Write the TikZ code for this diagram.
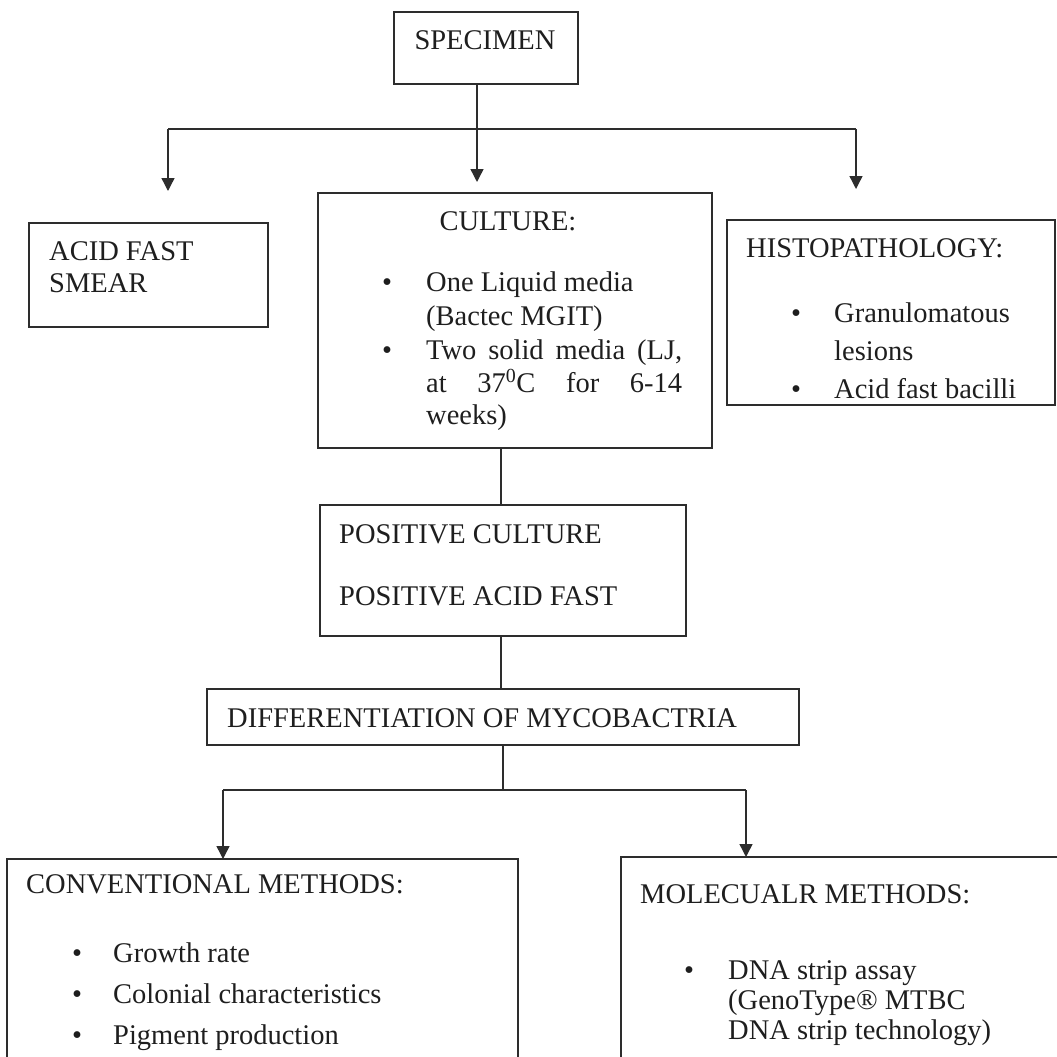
\documentclass[tikz,border=0pt]{standalone}
\usepackage{fontspec}
\setmainfont{Liberation Serif}
\usetikzlibrary{arrows.meta}
\definecolor{inkc}{RGB}{45,45,45}
\definecolor{textc}{RGB}{30,30,30}
\begin{document}
\begin{tikzpicture}[x=1pt,y=-1pt,
  ink/.style={draw=inkc, line width=1.4pt},
  box/.style={ink, rectangle, inner sep=0pt, outer sep=0pt, anchor=north west},
  txt/.style={anchor=base west, inner sep=0pt, text=textc, font=\fontsize{28.5}{34}\selectfont},
  ctxt/.style={txt, anchor=base},
  arr/.style={ink, -{Triangle[width=13pt,length=13pt]}},
]
\useasboundingbox (0,0) rectangle (1057,1057);
\clip (0,0) rectangle (1057,1057);

% boxes
\node[box, minimum width=184pt, minimum height=72pt] (spec) at (394,12) {};
\node[box, minimum width=239pt, minimum height=104pt] (acid) at (29,223) {};
\node[box, minimum width=394pt, minimum height=255pt] (cult) at (318,193) {};
\node[box, minimum width=328pt, minimum height=185pt] (histo) at (727,220) {};
\node[box, minimum width=366pt, minimum height=131pt] (pos) at (320,505) {};
\node[box, minimum width=592pt, minimum height=56pt] (diff) at (207,689) {};
\node[box, minimum width=511pt, minimum height=260pt] (conv) at (7,859) {};
\node[box, minimum width=500pt, minimum height=260pt] (mol) at (621,857) {};

% texts
\node[ctxt] (tspec) at (485,50) {SPECIMEN};
\node[txt] (tacid1) at (49,260) {ACID FAST};
\node[txt] (tacid2) at (49,292) {SMEAR};

\node[ctxt] (tcult) at (508,230) {CULTURE:};
\node[ctxt] (bc1) at (387,291) {•};
\node[txt] (tc1) at (426,291) {One Liquid media};
\node[txt] (tc2) at (426,325) {(Bactec MGIT)};
\node[ctxt] (bc2) at (387,359) {•};
\node[txt] (tc3) at (426,359) {\makebox[256pt][s]{Two solid media (LJ,}};
\node[txt] (tc4) at (426,392) {\makebox[256pt][s]{at\hfill 37\textsuperscript{0}C\hfill for\hfill 6-14}};
\node[txt] (tc5) at (426,424) {weeks)};

\node[txt] (thisto) at (746,257) {HISTOPATHOLOGY:};
\node[ctxt] (bh1) at (796,322) {•};
\node[txt] (th1) at (834,322) {Granulomatous};
\node[txt] (th2) at (834,360) {lesions};
\node[ctxt] (bh2) at (796,398) {•};
\node[txt] (th3) at (834,398) {Acid fast bacilli};

\node[txt] (tpos1) at (339,543) {POSITIVE CULTURE};
\node[txt] (tpos2) at (339,605) {POSITIVE ACID FAST};

\node[txt] (tdiff) at (227,727) {DIFFERENTIATION OF MYCOBACTRIA};

\node[txt] (tconv) at (26,893) {CONVENTIONAL METHODS:};
\node[ctxt] (bv1) at (77,962) {•};
\node[txt] (tv1) at (113,962) {Growth rate};
\node[ctxt] (bv2) at (77,1003) {•};
\node[txt] (tv2) at (113,1003) {Colonial characteristics};
\node[ctxt] (bv3) at (77,1044) {•};
\node[txt] (tv3) at (113,1044) {Pigment production};

\node[txt] (tmol) at (640,903) {MOLECUALR METHODS:};
\node[ctxt] (bm1) at (689,979) {•};
\node[txt] (tm1) at (728,979) {DNA strip assay};
\node[txt] (tm2) at (728,1009) {(GenoType® MTBC};
\node[txt] (tm3) at (728,1039) {DNA strip technology)};

% junction coordinates
\coordinate (j) at (477,129);
\coordinate (jl) at (168,129);
\coordinate (jr) at (856,129);
\coordinate (tipl) at (168,191);
\coordinate (tipc) at (477,182);
\coordinate (tipr) at (856,189);
\coordinate (m1) at (501,0);
\coordinate (m2) at (503,0);
\coordinate (k) at (503,790);
\coordinate (kl) at (223,790);
\coordinate (kr) at (746,790);

% connectors
\draw[ink] (spec.south -| j) -- (j);
\draw[ink] (jl) -- (jr);
\draw[arr] (jl) -- (tipl);
\draw[arr] (j) -- (tipc);
\draw[arr] (jr) -- (tipr);
\draw[ink] (cult.south -| m1) -- (pos.north -| m1);
\draw[ink] (pos.south -| m1) -- (diff.north -| m1);
\draw[ink] (diff.south -| m2) -- (k);
\draw[ink] (kl) -- (kr);
\draw[arr] (kl) -- (conv.north -| kl);
\draw[arr] (kr) -- (mol.north -| kr);
\end{tikzpicture}
\end{document}
